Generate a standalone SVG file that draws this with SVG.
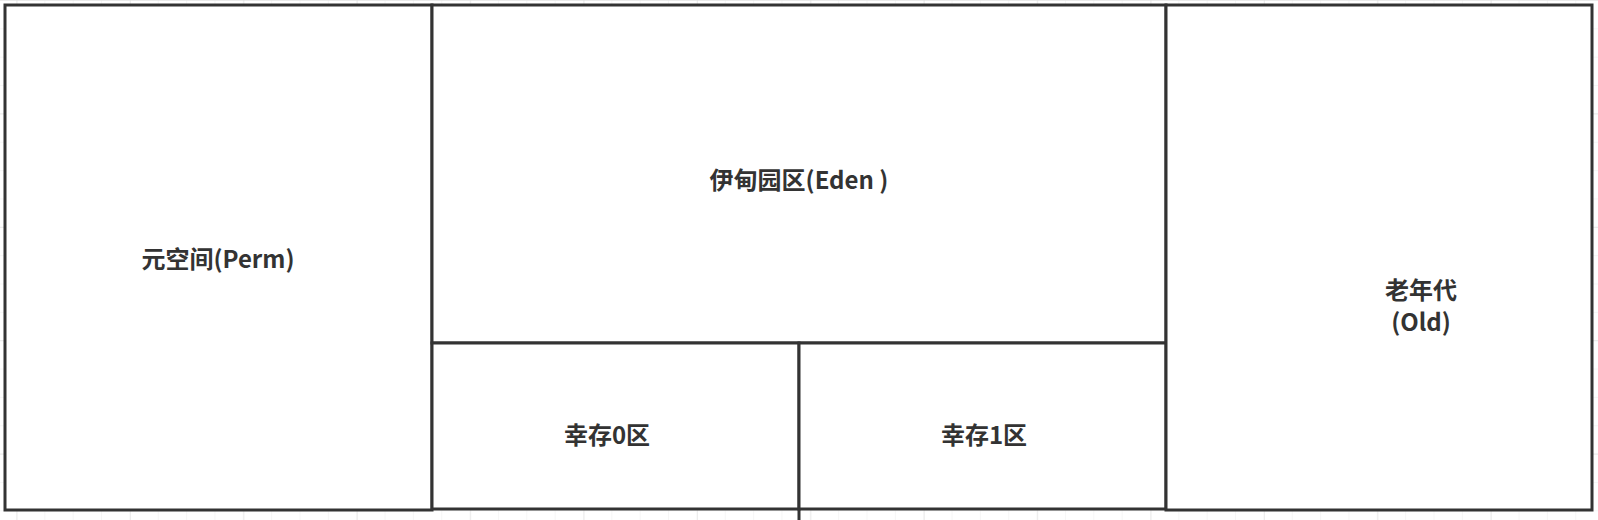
<svg xmlns="http://www.w3.org/2000/svg" width="1598" height="520" viewBox="0 0 1598 520">
<style>
.box{fill:#ffffff;stroke:#333333;stroke-width:3}
.lbl{font-family:"Noto Sans CJK SC","Microsoft YaHei",sans-serif;font-size:24px;font-weight:bold;fill:#333333;text-anchor:middle}
.conn{stroke:#333333;stroke-width:3;fill:none}
</style>
<defs>
<pattern id="gridMinor" patternUnits="userSpaceOnUse" x="16" y="0" width="28.35" height="28.35">
<path d="M0 0V28.35M0 0H28.35" stroke="#eeeeee" stroke-width="1" fill="none"/>
</pattern>
<pattern id="gridMajor" patternUnits="userSpaceOnUse" x="130" y="0" width="113.4" height="113.4">
<path d="M0 0V113.4M0 0H113.4" stroke="#dddddd" stroke-width="1" fill="none"/>
</pattern>
</defs>
<rect width="1598" height="520" fill="#ffffff"/>
<rect width="1598" height="520" fill="url(#gridMinor)"/>
<rect width="1598" height="520" fill="url(#gridMajor)"/>
<g id="perm">
<rect class="box" x="5" y="5" width="427" height="505"/>
<text class="lbl" x="218" y="268">元空间(Perm)</text>
</g>
<g id="eden">
<rect class="box" x="432" y="5" width="734" height="338"/>
<text class="lbl" x="799" y="189">伊甸园区(Eden )</text>
</g>
<g id="survivor0">
<rect class="box" x="432" y="343" width="367" height="166"/>
<text class="lbl" x="607" y="444">幸存0区</text>
</g>
<g id="survivor1">
<rect class="box" x="799" y="343" width="367" height="166"/>
<text class="lbl" x="984" y="444">幸存1区</text>
</g>
<g id="old">
<rect class="box" x="1166" y="5" width="426" height="505"/>
<text class="lbl" x="1421" y="299">老年代</text>
<text class="lbl" x="1421" y="331">(Old)</text>
</g>
<g id="connectors">
<line class="conn" x1="799" y1="509" x2="799" y2="520"/>
</g>
</svg>
